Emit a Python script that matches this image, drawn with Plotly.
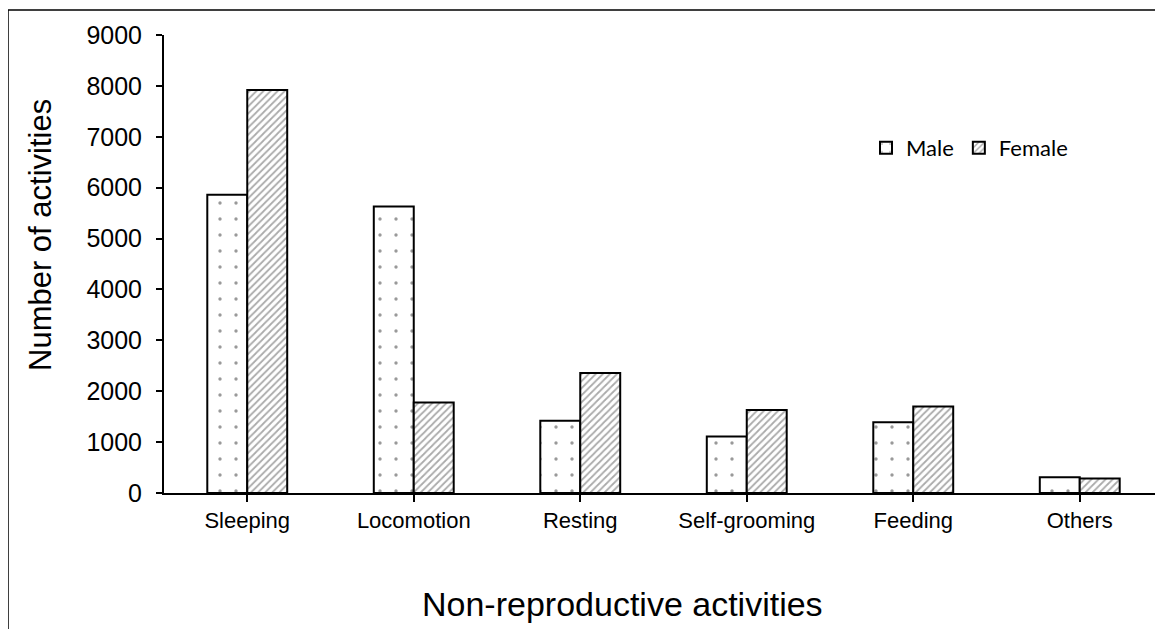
import plotly.graph_objects as go

categories = ["Sleeping", "Locomotion", "Resting", "Self-grooming", "Feeding", "Others"]
male = [5860, 5630, 1420, 1110, 1390, 310]
female = [7920, 1780, 2360, 1630, 1700, 285]
y_ticks = [0, 1000, 2000, 3000, 4000, 5000, 6000, 7000, 8000, 9000]

OFF = 8  # page body margin
W, H = 1163 - OFF, 629 - OFF
L, R, T = 164 - OFF, 0, 35 - OFF
B = H - (493 - OFF)
pw = W - L - R
ph = H - T - B

def px_x(x):
    return (x - OFF - L) / pw

def px_y(y):
    return (H - B - (y - OFF)) / ph

fig = go.Figure()
fig.add_trace(go.Bar(
    x=categories, y=male, name="Male",
    marker=dict(color="white", line=dict(color="black", width=2),
                pattern=dict(shape=".", fgcolor="#333333", bgcolor="white", size=16, solidity=0.035)),
))
fig.add_trace(go.Bar(
    x=categories, y=female, name="Female",
    marker=dict(color="white", line=dict(color="black", width=2),
                pattern=dict(shape="/", fgcolor="#555555", bgcolor="white", size=5, solidity=0.35)),
))

fig.update_layout(
    width=W, height=H,
    margin=dict(l=L, r=R, t=T, b=B, pad=0),
    paper_bgcolor="white", plot_bgcolor="white",
    barmode="group", bargap=0.52, bargroupgap=0,
    font=dict(family="Liberation Sans, Arial", color="black"),
    showlegend=True,
    legend=dict(orientation="h", x=px_x(866), y=px_y(148), xanchor="left", yanchor="middle",
                font=dict(family="Lato, Open Sans", size=22, color="black"),
                bgcolor="rgba(0,0,0,0)", itemwidth=30, traceorder="normal"),
    xaxis=dict(showline=True, linecolor="black", linewidth=2, ticks="outside", ticklen=7,
               tickwidth=2, tickcolor="black", tickfont=dict(size=22), showgrid=False,
               zeroline=False),
    yaxis=dict(range=[0, 9000], tickvals=y_ticks, showline=True, linecolor="black", linewidth=2,
               ticks="outside", ticklen=6, tickwidth=2, tickcolor="black",
               tickfont=dict(size=25), ticklabelstandoff=9, showgrid=False, zeroline=False),
)

fig.add_annotation(text="Number of activities", xref="paper", yref="paper",
                   x=px_x(40), y=px_y(235), textangle=-90, showarrow=False,
                   font=dict(size=31), xanchor="center", yanchor="middle")
fig.add_annotation(text="Non-reproductive activities", xref="paper", yref="paper",
                   x=px_x(622), y=px_y(604), showarrow=False,
                   font=dict(size=34), xanchor="center", yanchor="middle")

fig.add_shape(type="rect", xref="paper", yref="paper",
              x0=px_x(8), y0=px_y(700), x1=px_x(1200), y1=px_y(10),
              line=dict(color="black", width=1.5), fillcolor="rgba(0,0,0,0)", layer="below")

fig.write_html("out.html")
